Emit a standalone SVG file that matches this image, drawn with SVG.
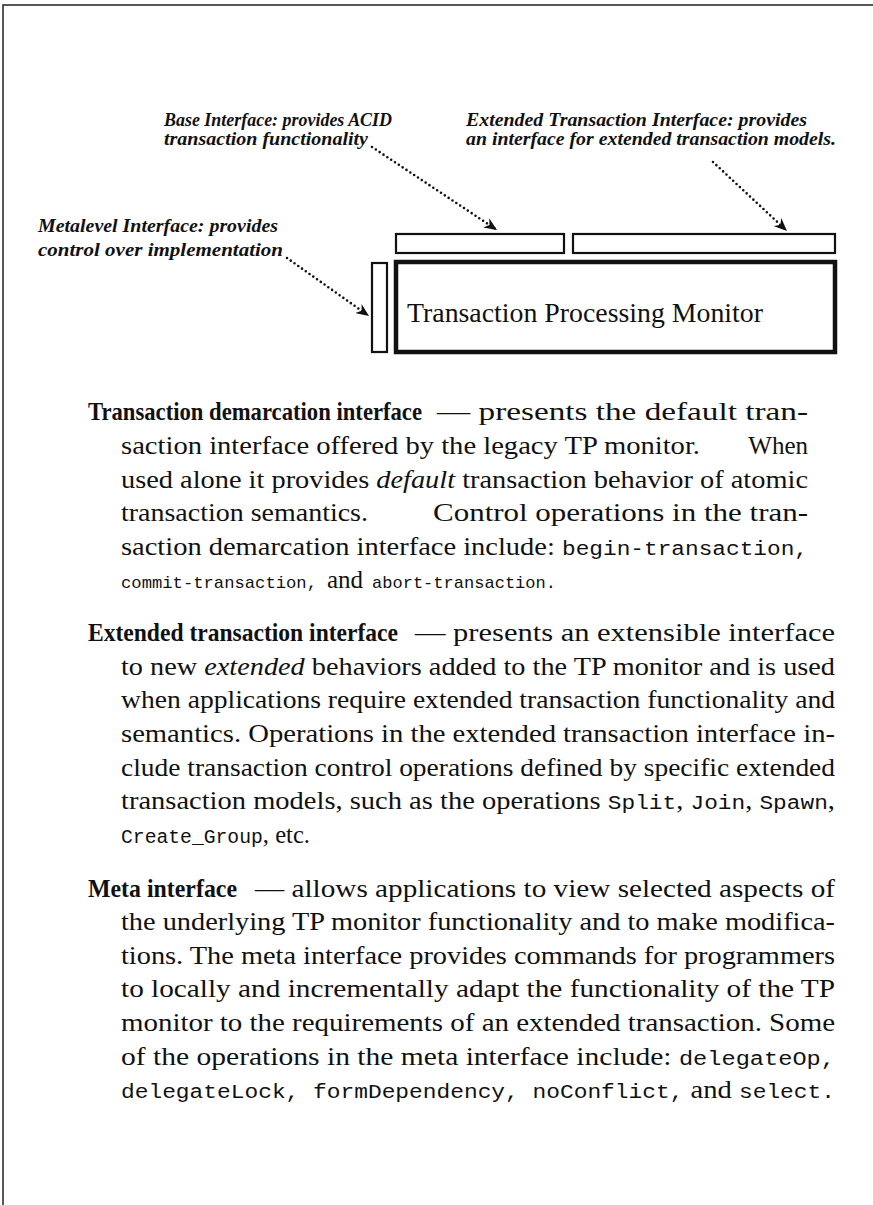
<svg xmlns="http://www.w3.org/2000/svg" width="873" height="1205" viewBox="0 0 873 1205">
<style>
.lbl{font-family:"Liberation Serif","Times New Roman",serif;font-weight:bold;font-style:italic;font-size:19px;fill:#111}
.body{font-family:"Liberation Serif","Times New Roman",serif;font-size:25px;fill:#111}
.bf{font-weight:bold;font-size:25.5px}
.it{font-style:italic}
.mono{font-family:"Liberation Mono","Courier New",monospace;font-size:20px}
.mono2{font-family:"Liberation Mono","Courier New",monospace;font-size:17px}
.box{fill:#fff;stroke:#111;stroke-width:2.2}
.main{fill:#fff;stroke:#111;stroke-width:4.5}
.dot{fill:none;stroke:#111;stroke-width:2.6;stroke-linecap:round;stroke-dasharray:0 4.6}
.frame{stroke:#222;stroke-width:1.5;fill:none}
</style>
<defs>
<marker id="ah" viewBox="0 0 13 11" refX="13" refY="5.5" markerWidth="13" markerHeight="11" markerUnits="userSpaceOnUse" orient="auto">
<path d="M0,0 L13,5.5 L0,11 L4,5.5 Z" fill="#111"/>
</marker>
</defs>
<rect width="873" height="1205" fill="#fff"/>
<path class="frame" d="M3,1205 L3,5 L873,5"/>

<g id="label-base">
<text class="lbl" x="164" y="126" textLength="228" lengthAdjust="spacingAndGlyphs">Base Interface: provides ACID</text>
<text class="lbl" x="164" y="145" textLength="204" lengthAdjust="spacingAndGlyphs">transaction functionality</text>
</g>
<g id="label-ext">
<text class="lbl" x="466" y="126" textLength="341" lengthAdjust="spacingAndGlyphs">Extended Transaction Interface: provides</text>
<text class="lbl" x="466" y="145" textLength="370" lengthAdjust="spacingAndGlyphs">an interface for extended transaction models.</text>
</g>
<g id="label-meta">
<text class="lbl" x="38" y="232" textLength="240" lengthAdjust="spacingAndGlyphs">Metalevel Interface: provides</text>
<text class="lbl" x="38" y="256" textLength="245" lengthAdjust="spacingAndGlyphs">control over implementation</text>
</g>

<g id="base-interface"><rect class="box" x="396" y="234" width="168" height="19"/></g>
<g id="ext-interface"><rect class="box" x="573" y="234" width="262" height="19"/></g>
<g id="meta-interface"><rect class="box" x="372" y="263" width="15" height="89"/></g>
<g id="tp-monitor">
<rect class="main" x="396" y="262" width="439" height="90"/>
<text class="body" x="407" y="322" style="font-size:27px" textLength="356" lengthAdjust="spacingAndGlyphs">Transaction Processing Monitor</text>
</g>

<g id="connectors">
<path class="dot" d="M372,147 L497,230" marker-end="url(#ah)"/>
<path class="dot" d="M713,162 L787,231" marker-end="url(#ah)"/>
<path class="dot" d="M287,258 L369,316" marker-end="url(#ah)"/>
</g>

<g id="text-body" class="body">
<text x="88" y="420" class="bf" textLength="334" lengthAdjust="spacingAndGlyphs">Transaction demarcation interface</text>
<text x="437" y="420" textLength="371" lengthAdjust="spacingAndGlyphs">— presents the default tran-</text>
<text x="121" y="454" textLength="579" lengthAdjust="spacingAndGlyphs">saction interface offered by the legacy TP monitor.</text>
<text x="808" y="454" text-anchor="end">When</text>
<text x="121" y="488" textLength="687" lengthAdjust="spacingAndGlyphs">used alone it provides <tspan class="it">default</tspan> transaction behavior of atomic</text>
<text x="121" y="521" textLength="247" lengthAdjust="spacingAndGlyphs">transaction semantics.</text>
<text x="433" y="521" textLength="375" lengthAdjust="spacingAndGlyphs">Control operations in the tran-</text>
<text x="121" y="555" textLength="687" lengthAdjust="spacingAndGlyphs">saction demarcation interface include: <tspan class="mono">begin-transaction,</tspan></text>
<text x="121" y="588" class="mono2" textLength="196" lengthAdjust="spacingAndGlyphs">commit-transaction,</text>
<text x="327" y="588">and</text>
<text x="372" y="588" class="mono2" textLength="184" lengthAdjust="spacingAndGlyphs">abort-transaction.</text>

<text x="88" y="641" class="bf" textLength="310" lengthAdjust="spacingAndGlyphs">Extended transaction interface</text>
<text x="415" y="641" textLength="420" lengthAdjust="spacingAndGlyphs">— presents an extensible interface</text>
<text x="121" y="675" textLength="714" lengthAdjust="spacingAndGlyphs">to new <tspan class="it">extended</tspan> behaviors added to the TP monitor and is used</text>
<text x="121" y="708" textLength="714" lengthAdjust="spacingAndGlyphs">when applications require extended transaction functionality and</text>
<text x="121" y="742" textLength="714" lengthAdjust="spacingAndGlyphs">semantics. Operations in the extended transaction interface in-</text>
<text x="121" y="776" textLength="714" lengthAdjust="spacingAndGlyphs">clude transaction control operations defined by specific extended</text>
<text x="121" y="809" textLength="714" lengthAdjust="spacingAndGlyphs">transaction models, such as the operations <tspan class="mono">Split</tspan>, <tspan class="mono">Join</tspan>, <tspan class="mono">Spawn</tspan>,</text>
<text x="121" y="843" textLength="189" lengthAdjust="spacingAndGlyphs"><tspan class="mono">Create_Group</tspan>, etc.</text>

<text x="88" y="897" class="bf" textLength="149" lengthAdjust="spacingAndGlyphs">Meta interface</text>
<text x="255" y="897" textLength="580" lengthAdjust="spacingAndGlyphs">— allows applications to view selected aspects of</text>
<text x="121" y="930" textLength="714" lengthAdjust="spacingAndGlyphs">the underlying TP monitor functionality and to make modifica-</text>
<text x="121" y="964" textLength="714" lengthAdjust="spacingAndGlyphs">tions. The meta interface provides commands for programmers</text>
<text x="121" y="997" textLength="714" lengthAdjust="spacingAndGlyphs">to locally and incrementally adapt the functionality of the TP</text>
<text x="121" y="1031" textLength="714" lengthAdjust="spacingAndGlyphs">monitor to the requirements of an extended transaction. Some</text>
<text x="121" y="1065" textLength="714" lengthAdjust="spacingAndGlyphs">of the operations in the meta interface include: <tspan class="mono">delegateOp,</tspan></text>
<text x="121" y="1098" textLength="714" lengthAdjust="spacingAndGlyphs"><tspan class="mono">delegateLock, formDependency, noConflict,</tspan> and <tspan class="mono">select.</tspan></text>
</g>
</svg>
